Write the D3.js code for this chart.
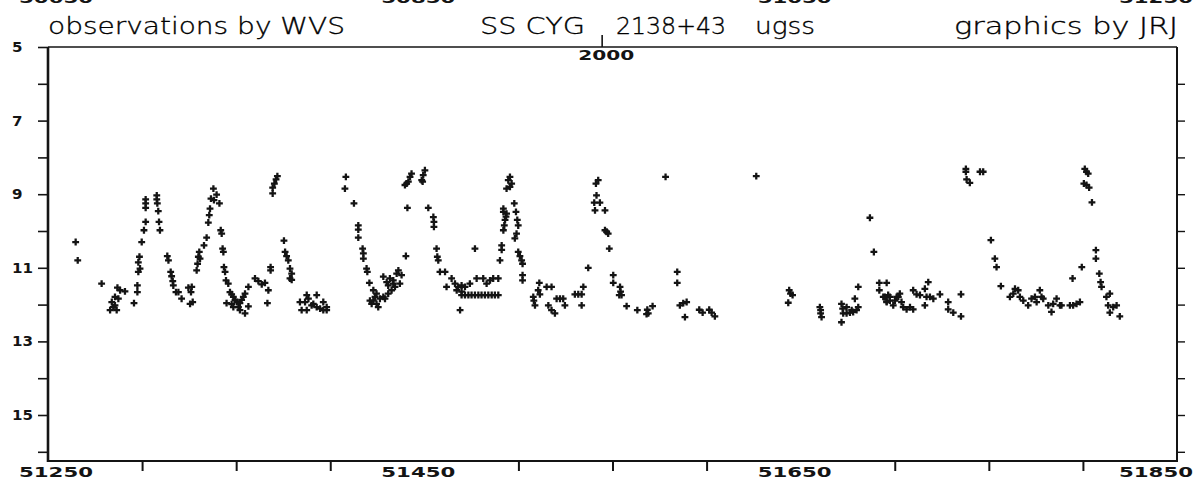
<!DOCTYPE html>
<html>
<head>
<meta charset="utf-8">
<script src="https://cdn.jsdelivr.net/npm/d3@7"></script>
<style>
  html, body { margin: 0; padding: 0; background: #fff; }
  svg { display: block; }
</style>
</head>
<body>
<svg id="chart" width="1204" height="479"></svg>
<script>
// ---------------- DATA ----------------
const headerLeft = "observations by WVS";
const headerStar = "SS CYG";
const headerCoords = "2138+43";
const headerType = "ugss";
const headerRight = "graphics by JRJ";
const yearMarkDay = 51544.5;
const yearMarkLabel = "2000";

const xDomain = [51250, 51850];
const yDomain = [5, 16.25];
const xTickDays = [51250, 51300, 51350, 51400, 51450, 51500, 51550, 51600, 51650, 51700, 51750, 51800, 51850];
const xLabelDays = [51250, 51450, 51650, 51850];
const prevStripLabels = ["50650", "50850", "51050", "51250"];
const yMajorTicks = [5, 7, 9, 11, 13, 15];
const yMinorTicks = [6, 8, 10, 12, 14, 16];

// [JD - 2400000, visual magnitude]
const observations = [
  [51264.7,10.30],[51265.8,10.80],[51278.5,11.43],[51286.9,11.54],[51288.3,11.61],[51290.9,11.64],
  [51285.6,11.79],[51287.4,11.84],[51283.9,11.93],[51285.6,12.02],[51283.0,12.15],[51286.5,12.15],
  [51284.7,12.07],[51295.7,11.96],[51297.5,11.48],[51297.5,11.66],[51298.6,10.70],[51298.0,10.85],
  [51298.9,11.02],[51298.0,11.11],[51299.8,10.30],[51301.0,9.98],[51301.9,9.75],[51301.9,9.14],
  [51301.9,9.25],[51301.9,9.37],[51307.8,9.03],[51307.8,9.14],[51308.1,9.25],[51308.6,9.46],
  [51309.0,9.75],[51309.5,9.98],[51313.4,10.68],[51314.0,10.80],[51315.2,11.11],[51315.7,11.23],
  [51316.3,11.36],[51316.6,11.48],[51318.0,11.66],[51319.3,11.66],[51321.0,11.84],[51324.6,11.54],
  [51326.4,11.52],[51326.0,11.66],[51325.5,11.98],[51326.9,11.93],[51329.0,11.07],[51329.5,10.89],
  [51329.9,10.70],[51330.4,10.57],[51330.8,10.75],[51332.9,10.39],[51334.3,10.18],[51335.2,9.77],
  [51335.7,9.57],[51336.1,9.39],[51336.6,9.12],[51338.2,9.16],[51339.6,9.01],[51341.1,9.25],
  [51337.9,8.85],[51341.8,9.98],[51342.3,10.07],[51342.8,10.48],[51343.2,10.57],[51343.5,10.98],
  [51344.1,11.11],[51344.6,11.34],[51345.8,11.43],[51346.7,11.66],[51347.6,11.72],[51348.5,11.79],
  [51349.4,11.87],[51344.9,11.96],[51347.6,11.99],[51348.5,12.07],[51350.3,11.93],[51351.2,12.07],
  [51352.0,11.96],[51352.9,11.87],[51353.8,11.79],[51354.7,11.70],[51356.5,11.52],[51352.0,12.15],
  [51354.7,12.24],[51356.5,12.05],[51360.0,11.29],[51361.8,11.36],[51363.6,11.45],[51365.3,11.41],
  [51367.1,11.61],[51366.6,11.96],[51368.3,10.98],[51368.3,11.07],[51369.4,8.98],[51369.4,8.82],
  [51370.3,8.71],[51371.2,8.60],[51371.9,8.51],[51375.4,10.26],[51376.0,10.57],[51376.8,10.68],
  [51377.7,10.80],[51378.6,11.02],[51379.5,11.16],[51378.6,11.29],[51379.5,11.33],[51383.9,11.93],
  [51386.6,11.93],[51388.4,11.84],[51391.0,11.98],[51392.8,12.07],[51394.6,12.11],[51396.3,11.93],
  [51398.1,12.07],[51387.5,11.74],[51392.8,11.74],[51384.8,12.15],[51387.5,12.15],[51396.3,12.15],
  [51398.1,12.15],[51390.1,12.02],
  [51408.3,8.53],[51407.8,8.85],[51412.6,9.25],[51414.9,9.85],[51414.9,9.96],[51414.9,10.18],
  [51417.2,10.48],[51417.6,10.61],[51417.6,10.75],[51419.3,11.02],[51419.7,11.11],[51420.8,11.41],
  [51422.0,11.98],[51422.9,11.89],[51423.8,11.79],[51424.6,11.70],[51426.4,11.84],[51429.1,11.84],
  [51428.2,11.24],[51430.0,11.39],[51431.7,11.29],[51433.5,11.34],[51435.3,11.16],[51436.2,11.07],
  [51437.9,11.20],[51437.0,11.43],[51434.4,11.52],[51432.6,11.61],[51430.8,11.70],[51425.5,12.07],
  [51422.9,11.61],[51421.1,11.89],[51424.6,11.98],[51428.2,11.79],[51430.8,11.48],[51433.5,11.43],
  [51440.2,10.68],[51441.0,9.37],[51439.7,8.75],[51441.5,8.66],[51442.4,8.53],[51443.2,8.44],
  [51440.6,8.71],[51448.6,8.62],[51449.4,8.48],[51450.3,8.35],[51449.1,8.66],[51452.1,9.37],
  [51454.8,9.62],[51455.1,9.75],[51455.1,9.89],[51456.5,10.48],[51456.9,10.70],[51457.4,10.80],
  [51458.3,11.11],[51461.0,11.11],[51461.8,11.52],[51464.5,11.29],[51466.3,11.43],[51468.0,11.52],
  [51469.8,11.48],[51471.6,11.52],[51474.2,11.43],[51469.8,11.74],[51471.6,11.74],[51473.4,11.74],
  [51475.1,11.74],[51476.9,11.74],[51478.7,11.74],[51480.4,11.74],[51482.2,11.74],[51484.0,11.74],
  [51485.8,11.74],[51487.5,11.74],[51489.3,11.74],[51467.2,11.61],[51469.8,11.65],[51477.8,11.29],
  [51481.3,11.29],[51484.9,11.34],[51486.6,11.29],[51489.3,11.29],[51483.1,11.43],[51476.9,10.48],
  [51469.0,12.15],[51490.2,10.80],[51491.1,10.39],[51491.1,10.51],[51492.0,9.98],[51492.5,9.85],
  [51492.9,9.70],[51493.4,9.61],[51493.7,9.53],[51494.6,8.62],[51495.5,8.53],[51496.4,8.71],
  [51495.5,8.80],[51493.7,8.85],[51492.0,9.39],[51492.0,9.48],[51497.8,9.25],[51498.7,9.48],
  [51499.4,9.70],[51499.9,9.85],[51499.0,10.07],[51498.1,10.20],[51499.9,10.57],[51500.8,10.68],
  [51501.7,10.80],[51502.2,10.89],[51502.2,11.20],[51502.2,11.34],[51511.1,11.41],[51510.5,11.61],
  [51511.4,11.72],[51507.9,11.79],[51508.2,11.89],[51508.8,12.02],[51515.0,11.52],[51517.6,11.52],
  [51515.9,12.02],[51517.6,12.15],[51519.4,12.24],[51520.3,11.84],[51522.1,11.84],[51523.8,11.84],
  [51524.7,12.02],[51530.0,11.72],[51531.8,11.72],[51533.6,11.72],[51534.5,11.52],[51533.6,12.02],
  [51537.1,11.00],[51541.2,8.71],[51542.4,8.62],[51541.5,9.03],[51540.3,9.23],[51543.3,9.23],
  [51540.7,9.44],[51546.0,9.44],[51546.0,9.98],[51547.7,10.07],[51548.3,10.48],[51546.9,10.02],
  [51550.4,11.20],[51550.4,11.41],[51554.0,11.52],[51554.3,11.65],[51553.6,11.74],[51554.8,11.74],
  [51557.5,12.04],[51563.2,12.15],[51568.5,12.14],[51569.0,12.24],[51568.1,12.26],[51571.3,12.04],
  [51578.2,8.53],[51584.4,11.11],[51584.4,11.41],[51585.8,12.02],[51587.6,11.96],[51589.4,11.93],
  [51588.5,12.34],[51596.1,12.14],[51597.9,12.22],[51601.4,12.14],[51602.7,12.22],[51604.4,12.32],
  [51626.4,8.51],[51643.9,11.61],[51644.6,11.70],[51645.7,11.74],[51643.4,11.95],
  [51660.2,12.07],[51660.6,12.15],[51660.6,12.24],[51661.1,12.34],[51671.7,11.98],[51672.3,12.11],
  [51672.6,12.24],[51671.7,12.48],[51674.4,12.07],[51676.2,12.22],[51677.9,12.20],[51679.7,12.15],
  [51680.6,12.07],[51678.8,11.84],[51680.6,11.52],[51674.4,12.24],[51677.1,12.15],
  [51686.8,9.64],[51688.9,10.57],[51691.8,11.41],[51695.7,11.41],[51691.8,11.61],[51693.9,11.79],
  [51695.7,11.91],[51697.4,11.79],[51699.2,12.02],[51701.0,11.79],
  [51694.8,11.79],[51696.5,11.74],[51697.4,11.89],[51695.7,11.93],[51700.1,11.89],
  [51701.9,11.79],[51702.7,11.70],[51703.6,11.93],[51704.5,12.07],[51706.3,12.13],[51708.1,12.07],
  [51709.8,12.13],[51709.8,11.61],[51711.6,11.72],[51713.4,11.74],[51716.0,11.57],[51716.9,11.79],
  [51716.0,12.02],[51718.7,11.79],[51720.5,11.84],[51717.8,11.39],[51724.0,11.72],[51728.4,11.93],
  [51728.4,12.13],[51731.1,12.22],[51735.2,12.32],[51735.2,11.72],
  [51737.8,8.31],[51737.8,8.39],[51738.2,8.60],[51739.9,8.69],[51745.3,8.39],[51747.0,8.39],
  [51751.1,10.25],[51753.2,10.75],[51754.1,10.98],[51756.4,11.50],
  [51761.2,11.79],[51763.0,11.70],[51763.9,11.57],[51765.6,11.61],[51766.5,11.79],[51768.3,11.89],
  [51770.9,12.02],[51772.7,11.84],[51774.5,11.79],[51775.4,11.93],[51777.1,11.61],[51778.0,11.79],
  [51778.9,11.84],[51781.6,12.02],[51783.3,12.20],[51784.2,11.98],[51786.0,11.84],[51787.8,12.02],
  [51788.6,12.02],[51793.1,12.02],[51794.8,12.02],[51796.6,11.98],[51798.4,11.93],[51794.5,11.29],
  [51799.4,10.98],[51801.0,8.31],[51801.9,8.39],[51802.8,8.44],[51800.5,8.71],[51801.9,8.75],
  [51803.3,8.82],[51804.8,9.22],[51806.9,10.52],[51806.9,10.75],[51808.7,11.16],[51809.4,11.39],
  [51809.9,11.52],[51812.5,11.79],[51814.3,11.70],[51813.4,12.02],[51816.1,12.07],[51817.9,12.02],
  [51814.3,12.22],[51819.6,12.32]
];

// ---------------- DRAW ----------------
const ink = "#141414";
const svg = d3.select("#chart");
const plot = { left: 48, right: 1177, top: 47, bottom: 461 };

const x = d3.scaleLinear().domain(xDomain).range([plot.left, plot.right]);
const y = d3.scaleLinear().domain(yDomain).range([plot.top, plot.bottom]);

const tickFont = "'DejaVu Sans', Verdana, sans-serif";
const labelX = d => Math.min(Math.max(x(d) - 6, 56), 1156);

// remnants of the previous strip's labels, cut at the top edge
svg.append("g").selectAll("text")
  .data(prevStripLabels)
  .join("text")
  .attr("x", (d, i) => labelX(xLabelDays[i]))
  .attr("y", 3)
  .attr("text-anchor", "middle")
  .attr("font-family", tickFont)
  .attr("font-weight", "bold")
  .attr("font-size", 14)
  .attr("textLength", 74)
  .attr("lengthAdjust", "spacingAndGlyphs")
  .attr("fill", ink)
  .text(d => d);

// header texts
const headFont = "'DejaVu Sans', sans-serif";
const header = [
  { t: headerLeft, x: 48, w: 297 },
  { t: headerStar, x: 480, w: 105 },
  { t: headerCoords, x: 616, w: 110 },
  { t: headerType, x: 755, w: 60 },
  { t: headerRight, x: 954, w: 224 }
];
svg.append("g").selectAll("text")
  .data(header)
  .join("text")
  .attr("x", d => d.x)
  .attr("y", 34)
  .attr("font-family", headFont)
  .attr("font-weight", 200)
  .attr("font-size", 23)
  .attr("textLength", d => d.w)
  .attr("lengthAdjust", "spacingAndGlyphs")
  .attr("fill", "#000")
  .attr("stroke", "#000")
  .attr("stroke-width", 0.35)
  .text(d => d.t);

// frame
const frame = svg.append("g").attr("fill", "none").attr("stroke", ink);
frame.append("line").attr("x1", plot.left).attr("x2", plot.right).attr("y1", plot.top).attr("y2", plot.top).attr("stroke-width", 1.5);
frame.append("line").attr("x1", plot.left).attr("x2", plot.right).attr("y1", plot.bottom).attr("y2", plot.bottom).attr("stroke-width", 2);
frame.append("line").attr("x1", plot.left).attr("x2", plot.left).attr("y1", plot.top).attr("y2", plot.bottom + 1).attr("stroke-width", 2.6);
frame.append("line").attr("x1", plot.right).attr("x2", plot.right).attr("y1", plot.top).attr("y2", plot.bottom + 1).attr("stroke-width", 2);

// left axis (major + minor ticks outward)
const leftAxis = d3.axisLeft(y).tickValues(yMajorTicks.concat(yMinorTicks)).tickSize(10).tickFormat("");
const gl = svg.append("g").attr("transform", `translate(${plot.left},0)`).call(leftAxis);
gl.select(".domain").remove();
gl.selectAll(".tick line").attr("stroke", ink).attr("stroke-width", 1.6);

// right axis ticks outward
const rightAxis = d3.axisRight(y).tickValues(yMajorTicks.concat(yMinorTicks).filter(v => v > 5)).tickSize(8).tickFormat("");
const gr = svg.append("g").attr("transform", `translate(${plot.right},0)`).call(rightAxis);
gr.select(".domain").remove();
gr.selectAll(".tick line").attr("stroke", ink).attr("stroke-width", 1.4);

// y labels
svg.append("g").selectAll("text")
  .data(yMajorTicks)
  .join("text")
  .attr("x", 12)
  .attr("y", d => y(d) + 5)
  .attr("font-family", tickFont)
  .attr("font-weight", "bold")
  .attr("font-size", 14)
  .attr("textLength", d => String(d).length * 10.5)
  .attr("lengthAdjust", "spacingAndGlyphs")
  .attr("fill", ink)
  .text(d => d);

// bottom axis ticks downward
const bottomAxis = d3.axisBottom(x).tickValues(xTickDays.filter(d => !xLabelDays.includes(d))).tickSize(10).tickFormat("");
const gb = svg.append("g").attr("transform", `translate(0,${plot.bottom})`).call(bottomAxis);
gb.select(".domain").remove();
gb.selectAll(".tick line").attr("stroke", ink).attr("stroke-width", 2);

// bottom labels
svg.append("g").selectAll("text")
  .data(xLabelDays)
  .join("text")
  .attr("x", labelX)
  .attr("y", 477)
  .attr("text-anchor", "middle")
  .attr("font-family", tickFont)
  .attr("font-weight", "bold")
  .attr("font-size", 14)
  .attr("textLength", 74)
  .attr("lengthAdjust", "spacingAndGlyphs")
  .attr("fill", ink)
  .text(d => d);

// year mark on top
svg.append("line")
  .attr("x1", x(yearMarkDay)).attr("x2", x(yearMarkDay))
  .attr("y1", plot.top).attr("y2", plot.top - 12)
  .attr("stroke", ink).attr("stroke-width", 1.6);
svg.append("text")
  .attr("x", x(yearMarkDay) + 4)
  .attr("y", plot.top + 13)
  .attr("text-anchor", "middle")
  .attr("font-family", tickFont)
  .attr("font-weight", "bold")
  .attr("font-size", 14)
  .attr("textLength", 56)
  .attr("lengthAdjust", "spacingAndGlyphs")
  .attr("fill", ink)
  .text(yearMarkLabel);

// observations
const sym = d3.symbol().type(d3.symbolCross).size(26);
svg.append("g")
  .selectAll("path")
  .data(observations)
  .join("path")
  .attr("transform", d => `translate(${x(d[0])},${y(d[1])})`)
  .attr("d", sym)
  .attr("fill", ink);
</script>
</body>
</html>
